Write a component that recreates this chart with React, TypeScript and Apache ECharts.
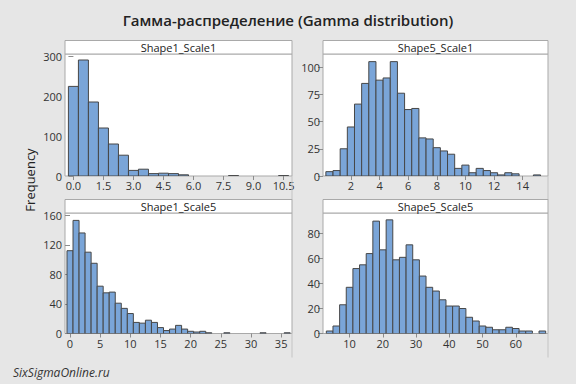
import React, { useEffect, useRef } from "react";
import * as echarts from "echarts";

const titleText = "Гамма-распределение (Gamma distribution)";
const yAxisTitle = "Frequency";
const watermarkText = "SixSigmaOnline.ru";

const panelNames = ["Shape1_Scale1", "Shape5_Scale1", "Shape1_Scale5", "Shape5_Scale5"];

// Shape1_Scale1 (bin width 0.5)
const s1s1Centers = [0, 0.5, 1, 1.5, 2, 2.5, 3, 3.5, 4, 4.5, 5, 5.5, 8, 10.5];
const s1s1Counts = [224, 290, 185, 120, 80, 52, 14, 17, 6, 7, 6, 3, 1, 1];
const s1s1XTicks = [0, 1.5, 3, 4.5, 6, 7.5, 9, 10.5];
const s1s1YTicks = [0, 100, 200, 300];

// Shape5_Scale1 (bin width 0.5)
const s5s1Centers = [0.5, 1, 1.5, 2, 2.5, 3, 3.5, 4, 4.5, 5, 5.5, 6, 6.5, 7, 7.5, 8, 8.5, 9, 9.5, 10, 10.5, 11, 11.5, 12, 12.5, 13, 13.5, 15];
const s5s1Counts = [4, 5, 25, 45, 66, 85, 105, 88, 90, 105, 76, 61, 62, 35, 34, 26, 23, 20, 7, 10, 3, 7, 5, 3, 1, 3, 2, 1];
const s5s1XTicks = [2, 4, 6, 8, 10, 12, 14];
const s5s1YTicks = [0, 25, 50, 75, 100];

// Shape1_Scale5 (bin width 1)
const s1s5Centers = [0, 1, 2, 3, 4, 5, 6, 7, 8, 9, 10, 11, 12, 13, 14, 15, 16, 17, 18, 19, 20, 21, 22, 23, 26, 32, 36];
const s1s5Counts = [112, 153, 136, 110, 95, 64, 55, 56, 41, 34, 27, 15, 14, 18, 15, 8, 4, 6, 11, 6, 3, 2, 3, 1, 1, 1, 1];
const s1s5XTicks = [0, 5, 10, 15, 20, 25, 30, 35];
const s1s5YTicks = [0, 40, 80, 120, 160];

// Shape5_Scale5 (bin width 2)
const s5s5Centers = [4, 6, 8, 10, 12, 14, 16, 18, 20, 22, 24, 26, 28, 30, 32, 34, 36, 38, 40, 42, 44, 46, 48, 50, 52, 54, 56, 58, 60, 62, 64, 68];
const s5s5Counts = [2, 6, 23, 37, 52, 55, 64, 90, 67, 91, 59, 61, 71, 59, 46, 37, 34, 27, 22, 22, 20, 13, 10, 6, 5, 3, 3, 5, 4, 2, 2, 2];
const s5s5XTicks = [10, 20, 30, 40, 50, 60];
const s5s5YTicks = [0, 20, 40, 60, 80];

const binWidths = [0.5, 0.5, 1, 2];
const xRanges = [[-0.42, 10.92], [0.05, 15.77], [-0.83, 36.8], [2.0, 69.7]];
const yMaxes = [305, 112, 163, 96.5];

const FONT = "'Open Sans', 'Noto Sans', sans-serif";
const BAR_FILL = "#7aa5d8";
const BAR_STROKE = "#474747";
const FRAME = "#a9a9a9";

export default function App() {
  const ref = useRef<HTMLDivElement>(null);
  useEffect(() => {
    if (!ref.current) return;
    const chart = echarts.init(ref.current, undefined, { renderer: "svg" });

    const centers = [s1s1Centers, s5s1Centers, s1s5Centers, s5s5Centers];
    const counts = [s1s1Counts, s5s1Counts, s1s5Counts, s5s5Counts];
    const xTicks = [s1s1XTicks, s5s1XTicks, s1s5XTicks, s5s5XTicks];
    const yTicks = [s1s1YTicks, s5s1YTicks, s1s5YTicks, s5s5YTicks];

    const grids = [
      { left: 65, top: 54, width: 227, height: 122 },
      { left: 323, top: 54, width: 225, height: 122 },
      { left: 65, top: 213, width: 227, height: 120.5 },
      { left: 323, top: 213, width: 225, height: 120.5 },
    ];

    const graphic: any[] = [];
    grids.forEach((g, i) => {
      const headerH = 13.5;
      graphic.push({
        type: "rect",
        shape: { x: g.left, y: g.top - headerH, width: g.width, height: headerH },
        style: { fill: "#ffffff", stroke: FRAME, lineWidth: 1 },
        z: 10,
      });
      graphic.push({
        type: "text",
        x: g.left + g.width / 2,
        y: g.top - headerH / 2,
        style: {
          text: panelNames[i],
          fontSize: 11,
          fontFamily: FONT,
          fill: "#222",
          align: "center",
          verticalAlign: "middle",
        },
        z: 11,
      });
      graphic.push({
        type: "line",
        shape: { x1: g.left + g.width, y1: g.top + g.height, x2: g.left + g.width, y2: g.top + g.height + 24 },
        style: { stroke: "#c4c4c4", lineWidth: 1 },
        z: 5,
      });
    });

    graphic.push({
      type: "text",
      x: 288,
      y: 20,
      style: {
        text: titleText,
        fontSize: 15,
        fontWeight: 600,
        fontFamily: FONT,
        fill: "#222",
        align: "center",
        verticalAlign: "middle",
      },
    });
    graphic.push({
      type: "text",
      x: 30,
      y: 180,
      rotation: Math.PI / 2,
      style: {
        text: yAxisTitle,
        fontSize: 13,
        fontFamily: FONT,
        fill: "#222",
        align: "center",
        verticalAlign: "middle",
      },
    });
    graphic.push({
      type: "text",
      x: 13,
      y: 372,
      style: {
        text: watermarkText,
        fontSize: 12,
        fontStyle: "italic",
        fontFamily: FONT,
        fill: "#333",
        align: "left",
        verticalAlign: "middle",
      },
    });

    const option: any = {
      animation: false,
      backgroundColor: "#e6e6e6",
      grid: grids.map((g) => ({
        ...g,
        show: true,
        backgroundColor: "#ffffff",
        borderColor: FRAME,
        borderWidth: 1,
        containLabel: false,
      })),
      xAxis: grids.map((_, i) => ({
        type: "value",
        gridIndex: i,
        min: xRanges[i][0],
        max: xRanges[i][1],
        axisLine: { show: false },
        splitLine: { show: false },
        axisTick: {
          show: true,
          customValues: xTicks[i],
          length: 4,
          lineStyle: { color: "#8c8c8c" },
        },
        axisLabel: {
          customValues: xTicks[i],
          color: "#333",
          fontSize: 11,
          fontFamily: FONT,
          margin: 4,
          formatter: (v: number) => (i === 0 ? v.toFixed(1) : String(v)),
        },
      })),
      yAxis: grids.map((_, i) => ({
        type: "value",
        gridIndex: i,
        min: 0,
        max: yMaxes[i],
        axisLine: { show: false },
        splitLine: { show: false },
        axisTick: {
          show: true,
          customValues: yTicks[i],
          length: 5,
          lineStyle: { color: "#8c8c8c" },
        },
        axisLabel: {
          customValues: yTicks[i],
          color: "#333",
          fontSize: 11,
          fontFamily: FONT,
          margin: 3,
        },
      })),
      series: grids.map((_, i) => ({
        type: "custom",
        xAxisIndex: i,
        yAxisIndex: i,
        clip: true,
        data: centers[i].map((c, k) => [c, counts[i][k]]),
        renderItem: (params: any, api: any) => {
          const x = api.value(0);
          const y = api.value(1);
          const w = binWidths[i];
          const p0 = api.coord([x - w / 2, y]);
          const p1 = api.coord([x + w / 2, 0]);
          return {
            type: "rect",
            shape: { x: p0[0], y: p0[1], width: p1[0] - p0[0], height: p1[1] - p0[1] },
            style: { fill: BAR_FILL, stroke: BAR_STROKE, lineWidth: 1 },
          };
        },
      })),
      graphic,
    };

    chart.setOption(option);
    return () => chart.dispose();
  }, []);

  return (
    <div
      ref={ref}
      style={{ position: "fixed", left: 0, top: 0, width: 576, height: 384 }}
    />
  );
}
